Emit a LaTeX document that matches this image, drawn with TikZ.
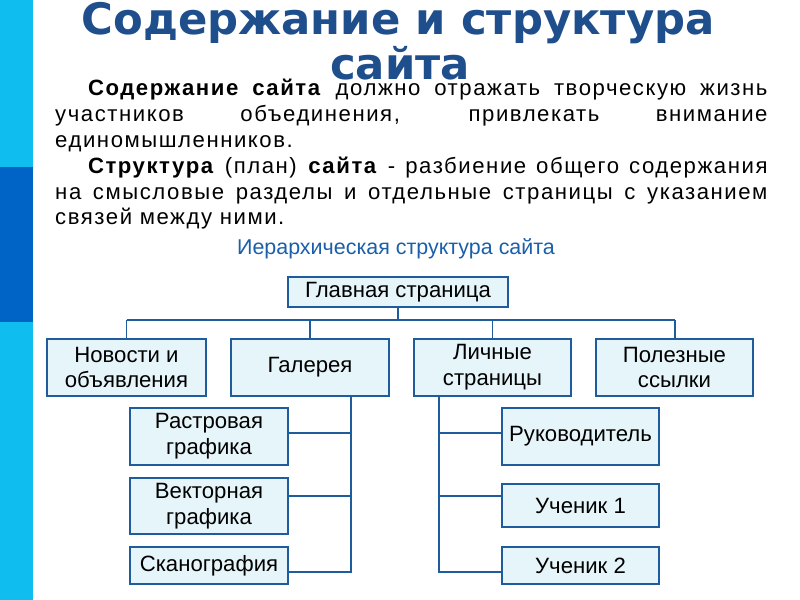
\documentclass[tikz,border=0pt]{standalone}
\usepackage{fontspec}
\setmainfont{Liberation Sans}
\newfontfamily\titlefont{DejaVu Sans}
\newfontfamily\bodyfont[LetterSpace=7]{Liberation Sans}
\usepackage{tikz}
\definecolor{sidecyan}{HTML}{0FBDEE}
\definecolor{sidedark}{HTML}{0063C6}
\definecolor{titleblue}{HTML}{1F4E8C}
\definecolor{subblue}{HTML}{1B5FAA}
\definecolor{boxblue}{HTML}{1F5C9E}
\definecolor{boxfill}{HTML}{E6F5FA}
\tikzset{
  box/.style 2 args={draw=boxblue,fill=boxfill,line width=1.7pt,inner sep=0pt,
    minimum width=#1*0.03cm,minimum height=#2*0.03cm,align=center,
    font=\fontsize{18.9}{22.1}\selectfont},
  link/.style={draw=boxblue,line width=1.7pt}
}

\begin{document}
\begin{tikzpicture}[x=0.03cm,y=-0.03cm]
\useasboundingbox[fill=white] (0,0) rectangle (800,600);
\fill[sidecyan] (0,0) rectangle (33,167);
\fill[sidedark] (0,167) rectangle (33,322);
\fill[sidecyan] (0,322) rectangle (33,600);

\node[anchor=base,inner sep=0pt,text=titleblue,font=\titlefont\bfseries\fontsize{37}{40}\selectfont] (title1) at (398,35) {Содержание и структура};
\node[anchor=base,inner sep=0pt,text=titleblue,font=\titlefont\bfseries\fontsize{37}{40}\selectfont] (title2) at (400,80) {сайта};

\node[anchor=base west,inner sep=0pt,text width=608pt,align=justify,font=\bodyfont\fontsize{18.9}{22.1}\selectfont] (body) at (55,95.5) {%
\parindent=0pt\hspace*{28pt}\textbf{Содержание сайта} должно отражать творческую жизнь\linebreak
участников объединения, привлекать внимание\linebreak
единомышленников.\par
\hspace*{28pt}\textbf{Структура} (план) \textbf{сайта} - разбиение общего содержания\linebreak
на смысловые разделы и отдельные страницы с указанием\linebreak
связей между ними.};

\node[anchor=base,inner sep=0pt,text=subblue,font=\fontsize{18.3}{21}\selectfont] (sub) at (396,255) {Иерархическая структура сайта};

\node[box={220}{30}] (main) at (398,292) {Главная страница};
\node[box={159}{57}] (nov) at (126.5,367.5) {Новости и\\объявления};
\node[box={158}{57}] (gal) at (310,367.5) {Галерея};
\node[box={157}{57}] (lich) at (492.5,367.5) {Личные\\страницы};
\node[box={157}{57}] (pol) at (674.5,367.5) {Полезные\\ссылки};
\node[box={158}{57}] (rast) at (209,436.5) {Растровая\\графика};
\node[box={158}{56}] (vect) at (209,506) {Векторная\\графика};
\node[box={158}{37}] (skan) at (209,565.5) {Сканография};
\node[box={157}{57}] (ruk) at (580.5,436.5) {Руководитель};
\node[box={157}{43}] (uch1) at (580.5,505.5) {Ученик 1};
\node[box={157}{37}] (uch2) at (580.5,565.5) {Ученик 2};

\coordinate (bus) at (0,320);
\coordinate (r1) at (0,433);
\coordinate (r2) at (0,496);
\coordinate (gspine) at (351,572);
\coordinate (lspine) at (439,572);

\draw[link] (main.south) -- (main.south |- bus);
\draw[link] (nov.north |- bus) -- (pol.north |- bus);
\foreach \n in {nov,gal,lich,pol}
  \draw[link] (\n.north) -- (\n.north |- bus);

\draw[link] (gal.south -| gspine) -- (gspine) -- (skan.east |- gspine);
\draw[link] (rast.east |- r1) -- (gspine |- r1);
\draw[link] (vect.east |- r2) -- (gspine |- r2);

\draw[link] (lich.south -| lspine) -- (lspine) -- (uch2.west |- lspine);
\draw[link] (ruk.west |- r1) -- (lspine |- r1);
\draw[link] (uch1.west |- r2) -- (lspine |- r2);
\end{tikzpicture}
\end{document}
